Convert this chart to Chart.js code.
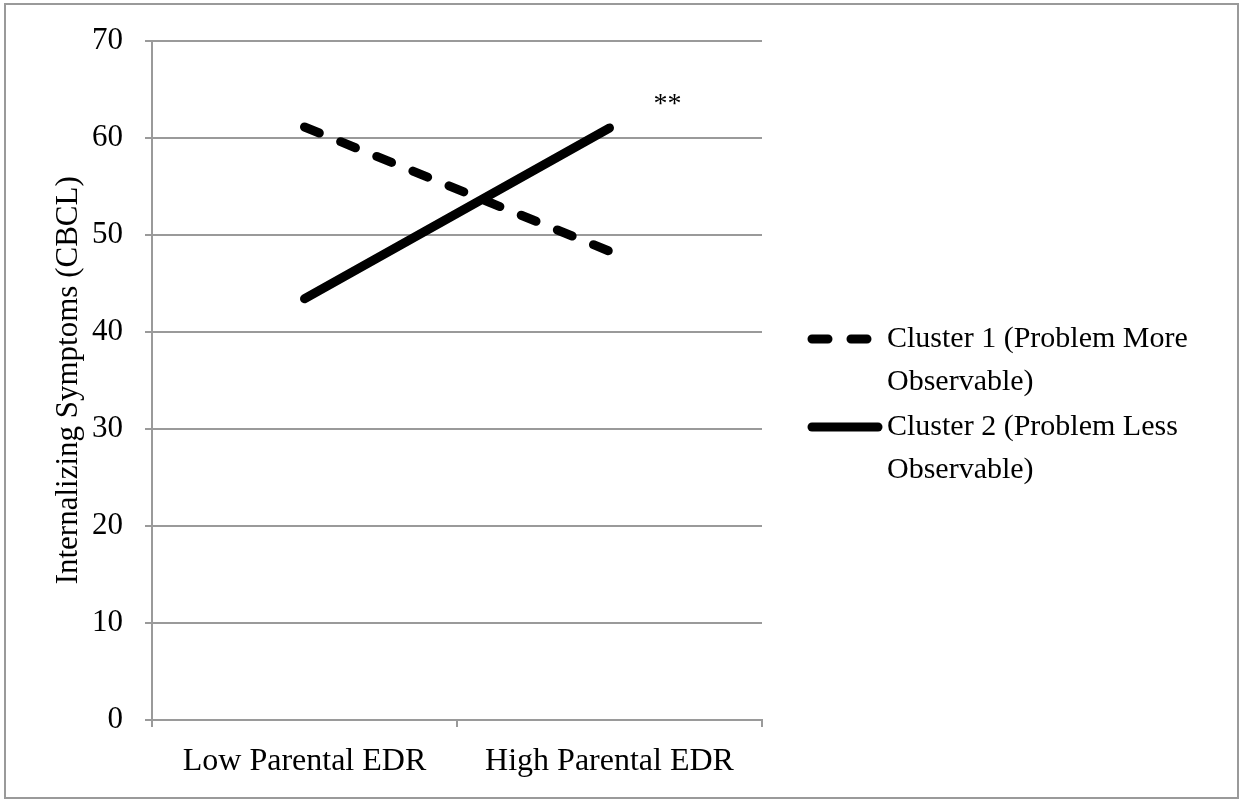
<!DOCTYPE html>
<html>
<head>
<meta charset="utf-8">
<script src="https://cdn.jsdelivr.net/npm/chart.js@4.4.1/dist/chart.umd.min.js"></script>
<style>
  html, body { margin: 0; padding: 0; background: #fff; }
  #wrap { width: 1243px; height: 803px; position: relative; }
</style>
</head>
<body>
<div id="wrap"><canvas id="edrChart" width="1243" height="803"></canvas></div>
<script>
/* =========================
   DATA
========================= */
const categories = ["Low Parental EDR", "High Parental EDR"];
const seriesNames = [
  "Cluster 1 (Problem More Observable)",
  "Cluster 2 (Problem Less Observable)"
];
const cluster1 = [61.1, 48.3];
const cluster2 = [43.4, 61.0];
const yTicks = [0, 10, 20, 30, 40, 50, 60, 70];
const yTitle = "Internalizing Symptoms (CBCL)";
// significance marker next to the high EDR point
const sigNote = { text: "**", category: 1, value: 63.7 };

/* =========================
   STYLE
========================= */
const FONT = "'Liberation Serif', 'Times New Roman', serif";
const GRID = "#9a9a9a";

/* =========================
   PLUGINS
========================= */
const frame = {
  id: "frame",
  beforeDraw(chart) {
    const ctx = chart.ctx;
    ctx.save();
    ctx.fillStyle = "#fff";
    ctx.fillRect(0, 0, chart.width, chart.height);
    ctx.strokeStyle = GRID;
    ctx.lineWidth = 2;
    ctx.strokeRect(5, 4, chart.width - 10, chart.height - 9);
    ctx.restore();
  }
};

const sideLegend = {
  id: "sideLegend",
  afterDraw(chart) {
    const ctx = chart.ctx;
    const x0 = 808, x1 = 882, tx = 887;
    const lineH = 43, itemGap = 2;
    let y = 339;
    ctx.save();
    ctx.font = "30px " + FONT;
    ctx.fillStyle = "#000";
    ctx.textBaseline = "middle";
    chart.data.datasets.forEach(ds => {
      // sample line
      ctx.beginPath();
      ctx.strokeStyle = ds.borderColor;
      ctx.lineWidth = ds.borderWidth;
      ctx.lineCap = "round";
      ctx.setLineDash(ds.borderDash || []);
      ctx.moveTo(x0 + 4, y);
      ctx.lineTo(x1 - 4, y);
      ctx.stroke();
      ctx.setLineDash([]);
      // wrapped text
      const maxW = chart.width - tx - 20;
      const words = ds.label.split(" ");
      const lines = [];
      let cur = "";
      words.forEach(w => {
        const test = cur ? cur + " " + w : w;
        if (ctx.measureText(test).width > maxW && cur) {
          lines.push(cur);
          cur = w;
        } else {
          cur = test;
        }
      });
      lines.push(cur);
      lines.forEach((ln, i) => ctx.fillText(ln, tx, y + i * lineH));
      y += lines.length * lineH + itemGap;
    });
    ctx.restore();
  }
};

const sigLabel = {
  id: "sigLabel",
  afterDatasetsDraw(chart) {
    const { x, y } = chart.scales;
    const ctx = chart.ctx;
    ctx.save();
    ctx.font = "28px " + FONT;
    ctx.fillStyle = "#000";
    ctx.textAlign = "center";
    ctx.textBaseline = "middle";
    ctx.fillText(sigNote.text,
      x.getPixelForValue(sigNote.category) + 58,
      y.getPixelForValue(sigNote.value) + 3);
    ctx.restore();
  }
};

/* =========================
   CHART
========================= */
const ctx = document.getElementById("edrChart").getContext("2d");

new Chart(ctx, {
  type: "line",
  data: {
    labels: categories,
    datasets: [
      {
        label: seriesNames[0],
        data: cluster1,
        borderColor: "#000",
        borderWidth: 9,
        borderDash: [16, 23],
        borderCapStyle: "round",
        pointRadius: 0,
        tension: 0,
        fill: false
      },
      {
        label: seriesNames[1],
        data: cluster2,
        borderColor: "#000",
        borderWidth: 9,
        borderCapStyle: "round",
        pointRadius: 0,
        tension: 0,
        fill: false
      }
    ]
  },
  options: {
    responsive: false,
    animation: false,
    layout: { padding: { left: 0, top: 38, right: 481, bottom: 0 } },
    plugins: {
      legend: { display: false },
      tooltip: { enabled: false }
    },
    scales: {
      x: {
        offset: true,
        afterFit(scale) { scale.height = 83; },
        grid: {
          offset: true,
          drawOnChartArea: false,
          drawTicks: true,
          tickLength: 7,
          color: GRID,
          lineWidth: 2
        },
        border: { display: true, color: GRID, width: 2 },
        ticks: {
          color: "#000",
          font: { family: FONT, size: 32 },
          padding: 15,
          maxRotation: 0
        }
      },
      y: {
        min: 0,
        max: 70,
        afterFit(scale) { scale.width = 152; },
        afterBuildTicks(scale) {
          scale.ticks = yTicks.map(v => ({ value: v }));
        },
        grid: {
          color: GRID,
          lineWidth: 2,
          tickLength: 7
        },
        border: { display: true, color: GRID, width: 2 },
        ticks: {
          color: "#000",
          font: { family: FONT, size: 31 },
          padding: 22
        },
        title: {
          display: true,
          text: yTitle,
          color: "#000",
          font: { family: FONT, size: 31 },
          padding: { top: 50, bottom: 0 }
        }
      }
    }
  },
  plugins: [frame, sideLegend, sigLabel]
});
</script>
</body>
</html>
